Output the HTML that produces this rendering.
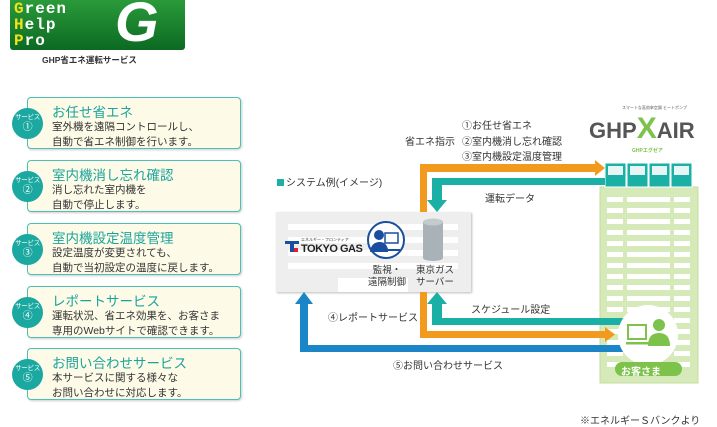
<!DOCTYPE html>
<html><head><meta charset="utf-8"><style>
*{margin:0;padding:0;box-sizing:border-box}
body{width:717px;height:425px;background:#fff;position:relative;overflow:hidden;font-family:"Liberation Sans","Noto Sans CJK JP",sans-serif;color:#333}
.a{position:absolute;white-space:nowrap}
.card{position:absolute;left:27px;width:214px;height:52px;background:#fdfbe8;border:1.5px solid #4cbfb8;border-radius:4px;box-shadow:1px 1px 2px #ccc}
.card .t{position:absolute;left:24px;top:3px;font-size:13.5px;color:#1aa39b}
.card .b{position:absolute;left:24px;top:22px;font-size:10.5px;line-height:14.5px;color:#333}
.circ{position:absolute;left:12px;width:31px;height:31px;border-radius:50%;background:#1aa8a0;color:#fff;font-size:6.5px;text-align:center;line-height:10px;padding-top:5px;letter-spacing:-0.3px}
.circ span{font-size:10px}
.s{font-size:10px}
</style></head><body>
<!-- logo -->
<div class="a" style="left:10px;top:0;width:175px;height:50px;background:linear-gradient(#2a9a3a,#0c6a22);border-radius:0 0 3px 3px"></div>
<div class="a" style="left:14px;top:1px;font:bold 16px/16px 'Liberation Mono',monospace;color:#fff;letter-spacing:1px"><span style="color:#f2e21a">G</span>reen<br><span style="color:#f2e21a">H</span>elp<br><span style="color:#f2e21a">P</span>ro</div>
<div class="a" style="left:115px;top:-6px;font:italic bold 56px/56px 'Liberation Sans',sans-serif;color:#fff">G</div>
<div class="a" style="left:42px;top:54px;font-size:8.5px;font-weight:bold;color:#333">GHP省エネ運転サービス</div>

<div class="card" style="top:97px"><div class="t">お任せ省エネ</div><div class="b">室外機を遠隔コントロールし、<br>自動で省エネ制御を行います。</div></div>
<div class="card" style="top:160px"><div class="t">室内機消し忘れ確認</div><div class="b">消し忘れた室内機を<br>自動で停止します。</div></div>
<div class="card" style="top:223px"><div class="t">室内機設定温度管理</div><div class="b">設定温度が変更されても、<br>自動で当初設定の温度に戻します。</div></div>
<div class="card" style="top:286px"><div class="t">レポートサービス</div><div class="b">運転状況、省エネ効果を、お客さま<br>専用のWebサイトで確認できます。</div></div>
<div class="card" style="top:348px"><div class="t">お問い合わせサービス</div><div class="b">本サービスに関する様々な<br>お問い合わせに対応します。</div></div>
<div class="circ" style="top:108px">サービス<br><span>①</span></div>
<div class="circ" style="top:171px">サービス<br><span>②</span></div>
<div class="circ" style="top:234px">サービス<br><span>③</span></div>
<div class="circ" style="top:297px">サービス<br><span>④</span></div>
<div class="circ" style="top:359px">サービス<br><span>⑤</span></div>

<svg class="a" style="left:0;top:0" width="717" height="425">
<rect x="600" y="187" width="98" height="196" fill="#d6e9b8"/>
<rect x="600" y="187" width="98" height="196" fill="none" stroke="#c5dda0"/>
<g fill="#fff">
<rect x="607" y="197" width="16" height="5"/><rect x="627" y="197" width="43" height="5"/><rect x="674" y="197" width="16" height="5"/>
<rect x="607" y="208" width="16" height="5"/><rect x="627" y="208" width="43" height="5"/><rect x="674" y="208" width="16" height="5"/>
<rect x="607" y="219" width="16" height="5"/><rect x="627" y="219" width="43" height="5"/><rect x="674" y="219" width="16" height="5"/>
<rect x="607" y="230" width="16" height="5"/><rect x="627" y="230" width="43" height="5"/><rect x="674" y="230" width="16" height="5"/>
<rect x="607" y="241" width="16" height="5"/><rect x="627" y="241" width="43" height="5"/><rect x="674" y="241" width="16" height="5"/>
<rect x="607" y="252" width="16" height="5"/><rect x="627" y="252" width="43" height="5"/><rect x="674" y="252" width="16" height="5"/>
<rect x="607" y="263" width="16" height="5"/><rect x="627" y="263" width="43" height="5"/><rect x="674" y="263" width="16" height="5"/>
<rect x="607" y="274" width="16" height="5"/><rect x="627" y="274" width="43" height="5"/><rect x="674" y="274" width="16" height="5"/>
<rect x="607" y="285" width="16" height="5"/><rect x="627" y="285" width="43" height="5"/><rect x="674" y="285" width="16" height="5"/>
<rect x="607" y="296" width="16" height="5"/><rect x="627" y="296" width="43" height="5"/><rect x="674" y="296" width="16" height="5"/>
<rect x="607" y="307" width="16" height="5"/><rect x="627" y="307" width="43" height="5"/><rect x="674" y="307" width="16" height="5"/>
<rect x="607" y="318" width="16" height="5"/><rect x="627" y="318" width="43" height="5"/><rect x="674" y="318" width="16" height="5"/>
<rect x="607" y="329" width="16" height="5"/><rect x="627" y="329" width="43" height="5"/><rect x="674" y="329" width="16" height="5"/>
<rect x="607" y="340" width="16" height="5"/><rect x="627" y="340" width="43" height="5"/><rect x="674" y="340" width="16" height="5"/>
<rect x="607" y="351" width="16" height="5"/><rect x="627" y="351" width="43" height="5"/><rect x="674" y="351" width="16" height="5"/>
<rect x="607" y="362" width="16" height="5"/><rect x="627" y="362" width="43" height="5"/><rect x="674" y="362" width="16" height="5"/>
</g>
<g fill="#1ab0a5" stroke="#fff" stroke-width="1">
<rect x="605" y="163" width="21" height="24"/><rect x="627" y="163" width="21" height="24"/><rect x="649" y="163" width="21" height="24"/><rect x="671" y="163" width="21" height="24"/>
</g>
<g fill="#e6f6f4"><rect x="608" y="166" width="15" height="9"/><rect x="630" y="166" width="15" height="9"/><rect x="652" y="166" width="15" height="9"/><rect x="674" y="166" width="15" height="9"/></g>
<rect x="276" y="212" width="195" height="80" fill="#eeeeee" style="filter:drop-shadow(1px 1px 1px #bbb)"/>
<g fill="#fff"><rect x="288" y="224" width="170" height="6"/><rect x="288" y="237" width="170" height="6"/><rect x="288" y="250" width="170" height="6"/><rect x="288" y="263" width="170" height="6"/><rect x="338" y="278" width="70" height="14"/></g>
<path d="M420 212 V164 H595 V160 L605 168 L595 176 V172 H427 V212Z" fill="#f29a1d"/>
<path d="M605 178 V185 H442 V200 H447 L437 212 L427 200 H432 V178Z" fill="#1ab0a5"/>
<path d="M420 292 V338 H605 V342 L615 334.5 L605 327 V331 H427 V292Z" fill="#f29a1d"/>
<path d="M623 318 V325 H432 V304 H427 L437 292 L447 304 H442 V318Z" fill="#1ab0a5"/>
<path d="M623 345 V352 H300 V304 H295 L304 292 L313 304 H308 V345Z" fill="#1a86c8"/>
<circle cx="386" cy="240" r="18" fill="#fff" stroke="#1a4fa0" stroke-width="2"/>
<circle cx="379" cy="235" r="5" fill="#1a4fa0"/>
<path d="M370 252 Q371 242 380 242 Q386 242 388 249 V252Z" fill="#1a4fa0"/>
<rect x="385" y="233" width="13" height="10" fill="#fff" stroke="#1a4fa0" stroke-width="1.5"/>
<rect x="384" y="249" width="16" height="2" fill="#1a4fa0"/>
<rect x="423" y="222" width="20" height="36" fill="#a9b2b7"/>
<ellipse cx="433" cy="222" rx="10" ry="3.5" fill="#c4cbcf"/>
<ellipse cx="433" cy="258" rx="10" ry="3" fill="#a9b2b7"/>
<rect x="285" y="241" width="14" height="3" fill="#1a4fa0"/><rect x="290" y="241" width="4" height="11" fill="#1a4fa0"/><rect x="294" y="248" width="4" height="4" fill="#e0202a"/>
<circle cx="648" cy="335" r="30" fill="#fff"/>
<rect x="628" y="325" width="18" height="14" fill="#fff" stroke="#7dc24a" stroke-width="2"/>
<rect x="626" y="342" width="24" height="2.5" fill="#7dc24a"/>
<circle cx="659" cy="325" r="6" fill="#7dc24a"/>
<path d="M648 346 Q648 333 659 333 Q670 333 670 346Z" fill="#7dc24a"/>
<rect x="615" y="362" width="67" height="14" rx="7" fill="#7dc24a"/>
</svg>
<div class="a" style="left:301px;top:243px;font-size:11px;font-weight:bold;color:#222;letter-spacing:-0.5px">TOKYO GAS</div>
<div class="a" style="left:301px;top:237px;font-size:4px;color:#333">エネルギー・フロンティア</div>
<div class="a s" style="left:368px;top:265px;line-height:12px;text-align:center;font-size:9.5px">監視・<br>遠隔制御</div>
<div class="a s" style="left:416px;top:265px;line-height:12px;font-size:9.5px">東京ガス<br>サーバー</div>
<div class="a" style="left:621px;top:363px;font-size:10px;color:#fff;font-weight:bold">お客さま</div>

<div class="a" style="left:589px;top:118px;font-size:22px;font-weight:bold;color:#555">GHP<span style="color:#7dc24a;font-size:30px;line-height:20px">X</span>AIR</div>
<div class="a" style="left:622px;top:105px;font-size:4px;color:#555">スマートな高効率空調 ヒートポンプ</div>
<div class="a" style="left:632px;top:147px;font-size:5px;color:#7dc24a;font-weight:bold">GHPエグゼア</div>

<div class="a s" style="left:462px;top:117px">①お任せ省エネ</div>
<div class="a s" style="left:405px;top:133px">省エネ指示</div>
<div class="a s" style="left:462px;top:133px">②室内機消し忘れ確認</div>
<div class="a s" style="left:462px;top:148px">③室内機設定温度管理</div>
<div class="a s" style="left:277px;top:174px"><span style="display:inline-block;width:7px;height:7px;background:#1ab0a5;margin-right:2px"></span>システム例(イメージ)</div>
<div class="a s" style="left:485px;top:190px">運転データ</div>
<div class="a s" style="left:471px;top:301px">スケジュール設定</div>
<div class="a s" style="left:328px;top:309px">④レポートサービス</div>
<div class="a s" style="left:393px;top:357px">⑤お問い合わせサービス</div>
<div class="a s" style="left:580px;top:412px">※エネルギーＳバンクより</div>
</body></html>
